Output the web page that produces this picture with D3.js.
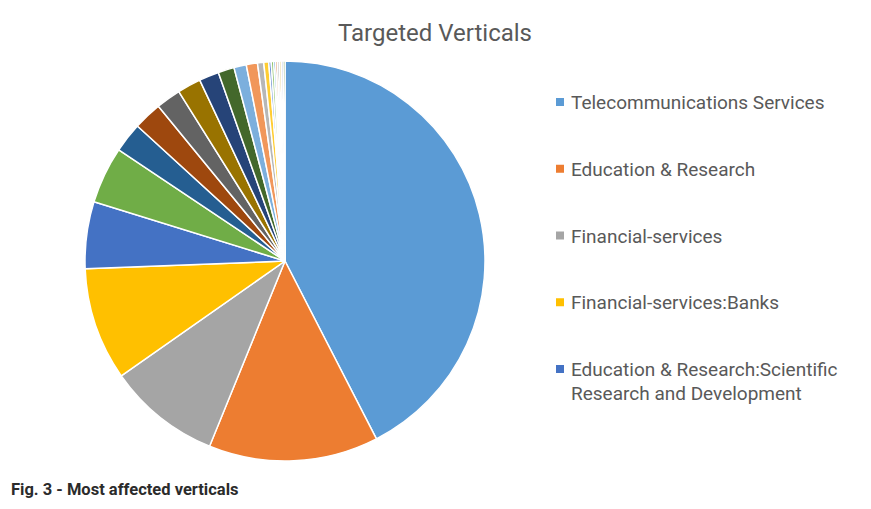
<!DOCTYPE html>
<html>
<head>
<meta charset="utf-8">
<script src="https://cdn.jsdelivr.net/npm/d3@7"></script>
<style>
  html, body { margin: 0; padding: 0; background: #fff; }
  svg { display: block; }
</style>
</head>
<body>
<svg id="chart" width="871" height="509"></svg>
<script>
// Data (share of attacks, %), clockwise from 12 o'clock
const categories = [
  "Telecommunications Services",
  "Education & Research",
  "Financial-services",
  "Financial-services:Banks",
  "Education & Research:Scientific Research and Development",
  "Vertical 6", "Vertical 7", "Vertical 8", "Vertical 9", "Vertical 10",
  "Vertical 11", "Vertical 12", "Vertical 13", "Vertical 14", "Vertical 15",
  "Vertical 16", "Vertical 17", "Vertical 18", "Vertical 19", "Vertical 20",
  "Vertical 21", "Vertical 22", "Vertical 23", "Vertical 24"
];
const values = [
  42.4, 13.7, 9.1, 9.1, 5.4,
  4.6, 2.4, 2.3, 2.0, 1.9,
  1.6, 1.3, 1.0, 0.9, 0.5,
  0.4, 0.2, 0.2, 0.15, 0.15,
  0.15, 0.15, 0.15, 0.15
];
const colors = [
  "#5B9BD5", "#ED7D31", "#A5A5A5", "#FFC000", "#4472C4",
  "#70AD47", "#255E91", "#9E480E", "#636363", "#997300",
  "#264478", "#43682B", "#7CAFDD", "#F1975A", "#B7B7B7",
  "#FFCD33", "#698ED0", "#8CC168", "#327DC2", "#D26012",
  "#848484", "#CC9A00", "#3A5FA0", "#5A8A39"
];
const legendCount = 5;
const legendLines = [
  ["Telecommunications Services"],
  ["Education & Research"],
  ["Financial-services"],
  ["Financial-services:Banks"],
  ["Education & Research:Scientific", "Research and Development"]
];

const data = categories.map((c, i) => ({ name: c, value: values[i], color: colors[i] }));

const svg = d3.select("#chart");
const font = "Roboto, 'Noto Sans', sans-serif";

// Title
svg.append("text")
  .attr("x", 435).attr("y", 41)
  .attr("text-anchor", "middle")
  .attr("font-family", font)
  .attr("font-size", 24)
  .attr("fill", "#595959")
  .text("Targeted Verticals");

// Pie
const cx = 285, cy = 261, r = 200;
const pie = d3.pie().value(d => d.value).sort(null);
const arc = d3.arc().innerRadius(0).outerRadius(r);
const g = svg.append("g").attr("transform", `translate(${cx},${cy})`);
g.selectAll("path")
  .data(pie(data))
  .join("path")
  .attr("d", arc)
  .attr("fill", d => d.data.color)
  .attr("stroke", "#fff")
  .attr("stroke-width", 1.5)
  .attr("stroke-linejoin", "round");

// Legend
const legendY = d3.scaleLinear().domain([0, legendCount - 1]).range([102, 369]);
const lg = svg.append("g");
data.slice(0, legendCount).forEach((d, i) => {
  const y = legendY(i);
  lg.append("rect")
    .attr("x", 556).attr("y", y - 4)
    .attr("width", 8).attr("height", 8)
    .attr("fill", d.color);
  const t = lg.append("text")
    .attr("x", 571).attr("y", y + 7)
    .attr("font-family", font)
    .attr("font-size", 19)
    .attr("fill", "#595959");
  legendLines[i].forEach((line, k) => {
    t.append("tspan").attr("x", 571).attr("dy", k === 0 ? 0 : 24).text(line);
  });
});

// Caption
svg.append("text")
  .attr("x", 11).attr("y", 495)
  .attr("font-family", font)
  .attr("font-size", 16.5)
  .attr("font-weight", "bold")
  .attr("fill", "#2b2b2b")
  .text("Fig. 3 - Most affected verticals");
</script>
</body>
</html>
